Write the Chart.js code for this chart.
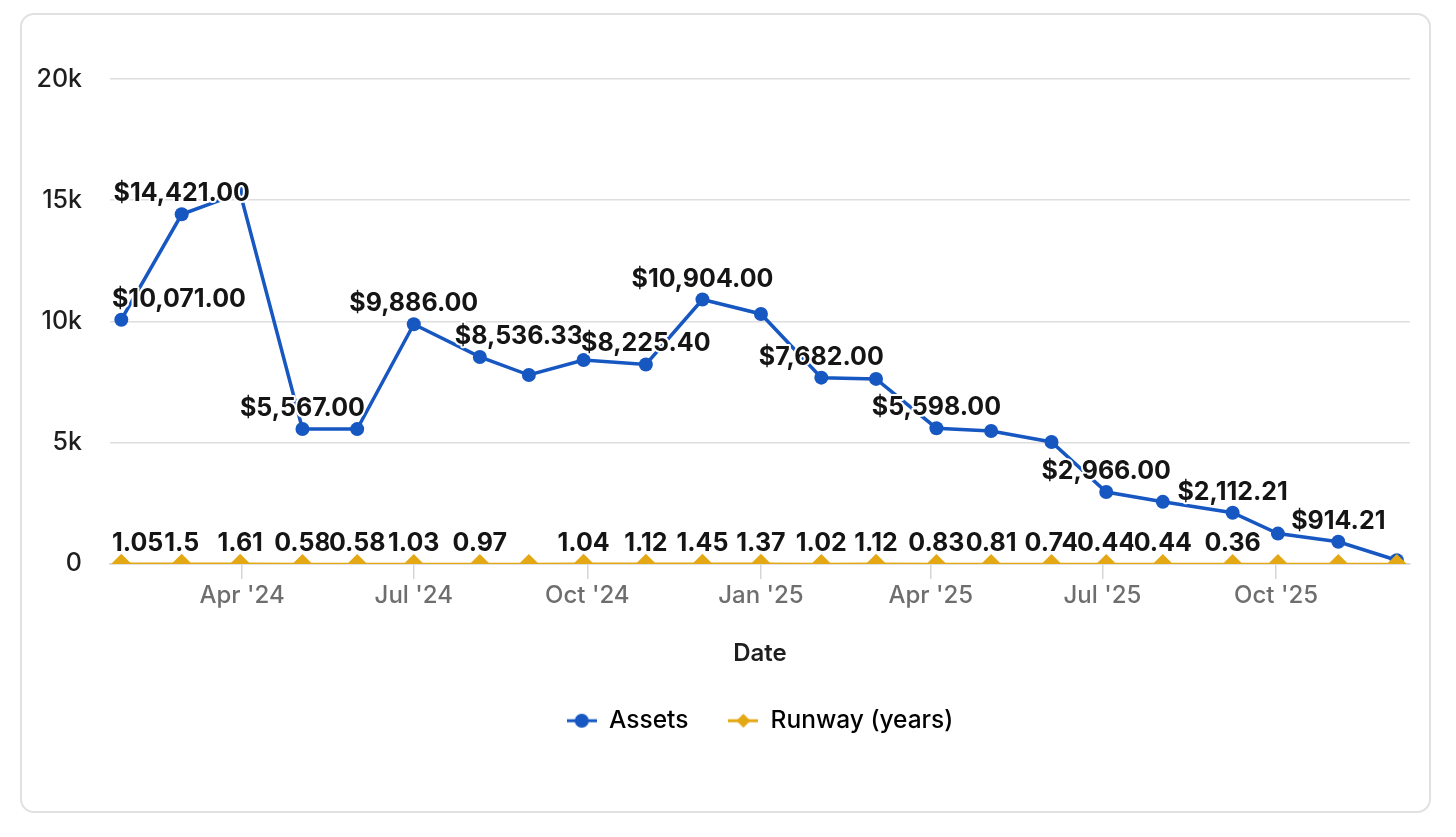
<!DOCTYPE html>
<html>
<head>
<meta charset="utf-8">
<script src="https://cdn.jsdelivr.net/npm/chart.js@4.4.1/dist/chart.umd.min.js"></script>
<style>
  html, body { margin: 0; padding: 0; background: #fff; }
  #card {
    position: absolute; left: 20px; top: 13px;
    width: 1407px; height: 796px;
    border: 2px solid #e1e1e1; border-radius: 14px;
  }
  #wrap { position: absolute; left: 0; top: 0; width: 1456px; height: 837px; }
</style>
</head>
<body>
<div id="card"></div>
<div id="wrap"><canvas id="chart"></canvas></div>
<script>
// snapshot dates
const dates = [
    '2024-01-28', '2024-02-29', '2024-03-31', '2024-05-03', '2024-06-01', '2024-07-01',
    '2024-08-05', '2024-08-31', '2024-09-29', '2024-11-01', '2024-12-01', '2025-01-01',
    '2025-02-02', '2025-03-03', '2025-04-04', '2025-05-03', '2025-06-04', '2025-07-03',
    '2025-08-02', '2025-09-08', '2025-10-02', '2025-11-03', '2025-12-04'
];

const assets = [
    10071, 14421, 15300, 5567, 5560, 9886,
    8536.33, 7790, 8410, 8225.40, 10904, 10310,
    7682, 7630, 5598, 5480, 5030, 2966,
    2560, 2112.21, 1250, 914.21, 150
];

const runway = [
    1.05, 1.5, 1.61, 0.58, 0.58, 1.03,
    0.97, 0.9, 1.04, 1.12, 1.45, 1.37,
    1.02, 1.12, 0.83, 0.81, 0.74, 0.44,
    0.44, 0.36, 0.22, 0.16, 0.03
];

// the original hides labels that collide, these are the ones that show
const assetLabelShown = [
    1, 1, 0, 1, 0, 1,
    1, 0, 0, 1, 1, 0,
    1, 0, 1, 0, 0, 1,
    0, 1, 0, 1, 0
];
const runwayLabelShown = [
    1, 1, 1, 1, 1, 1,
    1, 0, 1, 1, 1, 1,
    1, 1, 1, 1, 1, 1,
    1, 1, 0, 0, 0
];

const tickDates = ['2024-04-01', '2024-07-01', '2024-10-01', '2025-01-01', '2025-04-01', '2025-07-01', '2025-10-01'];
const tickLabels = ["Apr '24", "Jul '24", "Oct '24", "Jan '25", "Apr '25", "Jul '25", "Oct '25"];

const BLUE = '#1757c2';
const GOLD = '#e3a814';
const FONT = 'Inter, "Open Sans", sans-serif';

// dates -> day numbers for the linear x scale
function toDay(s) {
    return Date.parse(s + 'T00:00:00Z') / 86400000;
}
let assetPoints = dates.map((d, i) => ({ x: toDay(d), y: assets[i] }));
let runwayPoints = dates.map((d, i) => ({ x: toDay(d), y: runway[i] }));
let tickDays = tickDates.map(toDay);

// legend symbols: little line with the marker in the middle
function legendSymbol(color, shape) {
    let c = document.createElement('canvas');
    c.width = 30; c.height = 18;
    let g = c.getContext('2d');
    g.strokeStyle = color;
    g.lineWidth = 3;
    g.beginPath(); g.moveTo(0, 9); g.lineTo(30, 9); g.stroke();
    g.fillStyle = color;
    g.beginPath();
    if (shape == 'circle') {
        g.arc(15, 9, 7, 0, Math.PI * 2);
    } else {
        g.moveTo(15, 2); g.lineTo(22, 9); g.lineTo(15, 16); g.lineTo(8, 9);
        g.closePath();
    }
    g.fill();
    return c;
}

function fmtMoney(v) {
    return '$' + v.toLocaleString('en-US', { minimumFractionDigits: 2, maximumFractionDigits: 2 });
}

// draws the value labels over the points (bold with a white outline)
const valueLabels = {
    id: 'valueLabels',
    afterDatasetsDraw(chart, args, opts) {
        let ctx = chart.ctx;
        let area = chart.chartArea;
        ctx.save();
        ctx.font = 'bold 25px ' + FONT;
        ctx.textAlign = 'center';
        ctx.textBaseline = 'alphabetic';
        ctx.lineJoin = 'round';
        ctx.lineWidth = 4;
        ctx.strokeStyle = '#ffffff';
        ctx.fillStyle = '#151515';

        let sets = [
            { meta: chart.getDatasetMeta(0), vals: assets, shown: assetLabelShown, fmt: fmtMoney, shift: opts.assetShift },
            { meta: chart.getDatasetMeta(1), vals: runway, shown: runwayLabelShown, fmt: v => String(v), shift: {} }
        ];
        sets.forEach(s => {
            s.meta.data.forEach((pt, i) => {
                if (!s.shown[i]) return;
                let txt = s.fmt(s.vals[i]);
                let w = ctx.measureText(txt).width;
                let x = pt.x + (s.shift[i] || 0);
                // keep it inside the plot
                if (x - w / 2 < area.left + 2) x = area.left + 2 + w / 2;
                if (x + w / 2 > area.right - 2) x = area.right - 2 - w / 2;
                let y = pt.y - 13;
                ctx.strokeText(txt, x, y);
                ctx.fillText(txt, x, y);
            });
        });
        ctx.restore();
    }
};

// nudge the legend to the right, chart.js centres it with the trailing padding included
const legendNudge = {
    id: 'legendNudge',
    afterLayout(chart, args, opts) {
        chart.legend.left += opts.dx;
        chart.legend.right += opts.dx;
    }
};

let ctx = document.getElementById('chart');

let chart = new Chart(ctx, {
    type: 'line',
    data: {
        datasets: [{
            label: 'Assets',
            data: assetPoints,
            borderColor: BLUE,
            backgroundColor: BLUE,
            borderWidth: 3.5,
            pointRadius: 7,
            pointBorderWidth: 0,
            pointStyle: 'circle',
            tension: 0,
            order: 1
        }, {
            label: 'Runway (years)',
            data: runwayPoints,
            borderColor: GOLD,
            backgroundColor: GOLD,
            borderWidth: 2.5,
            pointRadius: 10,
            pointBorderWidth: 0,
            pointStyle: 'rectRot',
            tension: 0,
            order: 0
        }]
    },
    options: {
        responsive: true,
        maintainAspectRatio: false,
        animation: false,
        layout: { padding: { left: 30, right: 46, top: 79, bottom: 94 } },
        scales: {
            x: {
                type: 'linear',
                min: toDay('2024-01-22'),
                max: toDay('2025-12-11'),
                afterBuildTicks: axis => {
                    axis.ticks = tickDays.map(v => ({ value: v }));
                },
                ticks: {
                    autoSkip: false,
                    maxRotation: 0,
                    padding: 2,
                    color: '#6e6e6e',
                    font: { family: FONT, size: 24, weight: '500' },
                    callback: (v) => tickLabels[tickDays.indexOf(v)]
                },
                grid: {
                    drawOnChartArea: false,
                    drawTicks: true,
                    tickLength: 15,
                    tickColor: '#d6d6d6',
                    lineWidth: 1.5
                },
                border: { display: true, color: '#d6d6d6', width: 1.5 },
                title: {
                    display: true,
                    text: 'Date',
                    color: '#1e1e1e',
                    font: { family: FONT, size: 24, weight: '600' },
                    padding: { top: 28, bottom: 0 }
                }
            },
            y: {
                min: 0,
                max: 20000,
                afterFit: scale => { scale.width = 80; },
                ticks: {
                    stepSize: 5000,
                    padding: 28,
                    color: '#1e1e1e',
                    font: { family: FONT, size: 25, weight: '500' },
                    callback: v => v == 0 ? '0' : (v / 1000) + 'k'
                },
                grid: { color: '#dedede', lineWidth: 1.5, drawTicks: false },
                border: { display: false }
            }
        },
        plugins: {
            legend: {
                position: 'bottom',
                labels: {
                    usePointStyle: true,
                    pointStyleWidth: 30,
                    padding: 40,
                    color: '#1e1e1e',
                    font: { family: FONT, size: 24.5, weight: '500' },
                    generateLabels: () => [
                        { text: 'Assets', pointStyle: legendSymbol(BLUE, 'circle'), fillStyle: BLUE, strokeStyle: BLUE, lineWidth: 0, hidden: false, datasetIndex: 0 },
                        { text: 'Runway (years)', pointStyle: legendSymbol(GOLD, 'diamond'), fillStyle: GOLD, strokeStyle: GOLD, lineWidth: 0, hidden: false, datasetIndex: 1 }
                    ]
                }
            },
            tooltip: { enabled: false },
            valueLabels: { assetShift: { 6: 39 } },
            legendNudge: { dx: 40 }
        }
    },
    plugins: [valueLabels, legendNudge]
});
</script>
</body>
</html>
